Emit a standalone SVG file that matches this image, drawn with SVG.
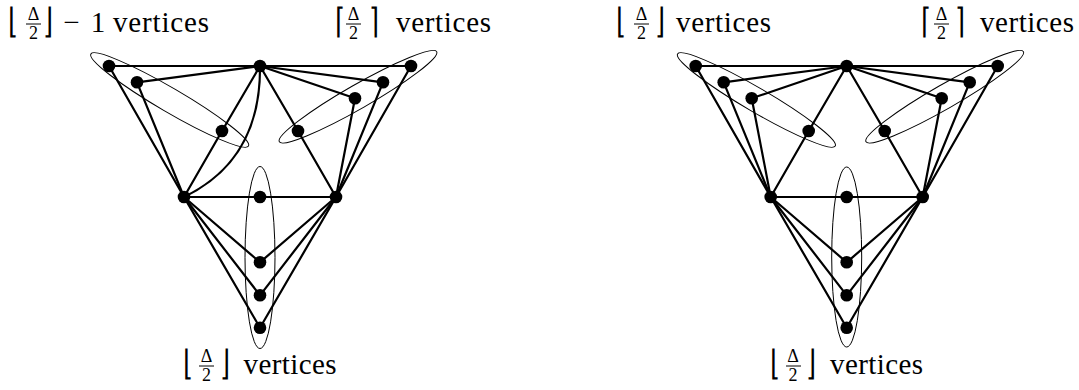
<svg xmlns="http://www.w3.org/2000/svg" width="1079" height="390" viewBox="0 0 1079 390">
<style>
.e{stroke:#000;stroke-width:2.2;fill:none;stroke-linecap:round}
.g{stroke:#000;stroke-width:1;fill:none}
.v{fill:#000}
.bar{stroke:#000;stroke-width:1}
.t{font-family:'Liberation Serif',serif;font-size:29px;fill:#000}
.f{font-family:'Liberation Serif',serif;font-size:18px;fill:#000;text-anchor:middle}
.b{font-family:'Liberation Serif',serif;font-size:26px;fill:#000;text-anchor:middle}
</style>
<rect width="1079" height="390" fill="#fff"/>
<g id="connectors">
<g id="left-edges">
<line class="e" x1="109" y1="66" x2="411" y2="66"/>
<line class="e" x1="137" y1="82.3" x2="260" y2="66"/>
<line class="e" x1="260" y1="66" x2="383" y2="82.3"/>
<line class="e" x1="260" y1="66" x2="355" y2="98.3"/>
<line class="e" x1="184" y1="197" x2="222" y2="131"/>
<line class="e" x1="222" y1="131" x2="260" y2="66"/>
<line class="e" x1="260" y1="66" x2="298" y2="131"/>
<line class="e" x1="298" y1="131" x2="336" y2="197"/>
<path class="e" d="M184,197 Q261,160 260,66"/>
<line class="e" x1="109" y1="66" x2="184" y2="197"/>
<line class="e" x1="137" y1="82.3" x2="184" y2="197"/>
<line class="e" x1="411" y1="66" x2="336" y2="197"/>
<line class="e" x1="383" y1="82.3" x2="336" y2="197"/>
<line class="e" x1="355" y1="98.3" x2="336" y2="197"/>
<line class="e" x1="184" y1="197" x2="336" y2="197"/>
<line class="e" x1="184" y1="197" x2="260" y2="262.3"/>
<line class="e" x1="184" y1="197" x2="260" y2="295.3"/>
<line class="e" x1="184" y1="197" x2="260" y2="327.7"/>
<line class="e" x1="336" y1="197" x2="260" y2="262.3"/>
<line class="e" x1="336" y1="197" x2="260" y2="295.3"/>
<line class="e" x1="336" y1="197" x2="260" y2="327.7"/>
</g>
<g id="right-edges">
<line class="e" x1="695.7" y1="66" x2="997.7" y2="66"/>
<line class="e" x1="723.7" y1="82.3" x2="846.7" y2="66"/>
<line class="e" x1="751.7" y1="98.3" x2="846.7" y2="66"/>
<line class="e" x1="846.7" y1="66" x2="969.7" y2="82.3"/>
<line class="e" x1="846.7" y1="66" x2="941.7" y2="98.3"/>
<line class="e" x1="770.7" y1="197" x2="808.7" y2="131"/>
<line class="e" x1="808.7" y1="131" x2="846.7" y2="66"/>
<line class="e" x1="846.7" y1="66" x2="884.7" y2="131"/>
<line class="e" x1="884.7" y1="131" x2="922.7" y2="197"/>
<line class="e" x1="695.7" y1="66" x2="770.7" y2="197"/>
<line class="e" x1="723.7" y1="82.3" x2="770.7" y2="197"/>
<line class="e" x1="751.7" y1="98.3" x2="770.7" y2="197"/>
<line class="e" x1="997.7" y1="66" x2="922.7" y2="197"/>
<line class="e" x1="969.7" y1="82.3" x2="922.7" y2="197"/>
<line class="e" x1="941.7" y1="98.3" x2="922.7" y2="197"/>
<line class="e" x1="770.7" y1="197" x2="922.7" y2="197"/>
<line class="e" x1="770.7" y1="197" x2="846.7" y2="262.3"/>
<line class="e" x1="770.7" y1="197" x2="846.7" y2="295.3"/>
<line class="e" x1="770.7" y1="197" x2="846.7" y2="327.7"/>
<line class="e" x1="922.7" y1="197" x2="846.7" y2="262.3"/>
<line class="e" x1="922.7" y1="197" x2="846.7" y2="295.3"/>
<line class="e" x1="922.7" y1="197" x2="846.7" y2="327.7"/>
</g>
</g>
<g id="groups">
<ellipse id="left-group-a" class="g" cx="169.7" cy="100" rx="91.3" ry="12" transform="rotate(30.3 169.7 100)"/>
<ellipse id="left-group-b" class="g" cx="358" cy="96.7" rx="90.7" ry="12" transform="rotate(-29.8 358 96.7)"/>
<ellipse id="left-group-c" class="g" cx="260" cy="257.5" rx="15" ry="91"/>
<ellipse id="right-group-a" class="g" cx="756.4" cy="100" rx="91.3" ry="12" transform="rotate(30.3 756.4 100)"/>
<ellipse id="right-group-b" class="g" cx="944.7" cy="96.7" rx="90.7" ry="12" transform="rotate(-29.8 944.7 96.7)"/>
<ellipse id="right-group-c" class="g" cx="846.7" cy="257" rx="15" ry="90"/>
</g>
<g id="left-vertices">
<circle id="lT" class="v" cx="260" cy="66" r="6.3"/>
<circle id="lL1" class="v" cx="109" cy="66" r="6.3"/>
<circle id="lL2" class="v" cx="137" cy="82.3" r="6.3"/>
<circle id="lL3" class="v" cx="222" cy="131" r="6.3"/>
<circle id="lR1" class="v" cx="411" cy="66" r="6.3"/>
<circle id="lR2" class="v" cx="383" cy="82.3" r="6.3"/>
<circle id="lR3" class="v" cx="355" cy="98.3" r="6.3"/>
<circle id="lR4" class="v" cx="298" cy="131" r="6.3"/>
<circle id="lBL" class="v" cx="184" cy="197" r="6.3"/>
<circle id="lBR" class="v" cx="336" cy="197" r="6.3"/>
<circle id="lM0" class="v" cx="260" cy="197" r="6.3"/>
<circle id="lM1" class="v" cx="260" cy="262.3" r="6.3"/>
<circle id="lM2" class="v" cx="260" cy="295.3" r="6.3"/>
<circle id="lM3" class="v" cx="260" cy="327.7" r="6.3"/>
</g>
<g id="right-vertices">
<circle id="rT" class="v" cx="846.7" cy="66" r="6.3"/>
<circle id="rL1" class="v" cx="695.7" cy="66" r="6.3"/>
<circle id="rL2" class="v" cx="723.7" cy="82.3" r="6.3"/>
<circle id="rL3" class="v" cx="751.7" cy="98.3" r="6.3"/>
<circle id="rL4" class="v" cx="808.7" cy="131" r="6.3"/>
<circle id="rR1" class="v" cx="997.7" cy="66" r="6.3"/>
<circle id="rR2" class="v" cx="969.7" cy="82.3" r="6.3"/>
<circle id="rR3" class="v" cx="941.7" cy="98.3" r="6.3"/>
<circle id="rR4" class="v" cx="884.7" cy="131" r="6.3"/>
<circle id="rBL" class="v" cx="770.7" cy="197" r="6.3"/>
<circle id="rBR" class="v" cx="922.7" cy="197" r="6.3"/>
<circle id="rM0" class="v" cx="846.7" cy="197" r="6.3"/>
<circle id="rM1" class="v" cx="846.7" cy="262.3" r="6.3"/>
<circle id="rM2" class="v" cx="846.7" cy="295.3" r="6.3"/>
<circle id="rM3" class="v" cx="846.7" cy="327.7" r="6.3"/>
</g>
<g id="label-left-a">
<text class="b" transform="translate(13 33) scale(1 1.35)">⌊</text>
<text class="f" x="33.5" y="20">Δ</text>
<line class="bar" x1="26" y1="24" x2="41" y2="24"/>
<text class="f" x="33.5" y="39">2</text>
<text class="b" transform="translate(48 33) scale(1 1.35)">⌋</text>
<text class="t" x="71.5" y="32" text-anchor="middle">−</text>
<text class="t" x="98" y="32" text-anchor="middle">1</text>
<text class="t" x="113" y="32" textLength="96" lengthAdjust="spacing">vertices</text>
</g>
<g id="label-left-b">
<text class="b" transform="translate(340 33) scale(1 1.35)">⌈</text>
<text class="f" x="353.5" y="20">Δ</text>
<line class="bar" x1="346" y1="24" x2="361" y2="24"/>
<text class="f" x="353.5" y="39">2</text>
<text class="b" transform="translate(374 33) scale(1 1.35)">⌉</text>
<text class="t" x="396" y="32" textLength="95" lengthAdjust="spacing">vertices</text>
</g>
<g id="label-left-c">
<text class="b" transform="translate(188.5 375) scale(1 1.35)">⌊</text>
<text class="f" x="206.5" y="362">Δ</text>
<line class="bar" x1="199" y1="366" x2="214" y2="366"/>
<text class="f" x="206.5" y="381">2</text>
<text class="b" transform="translate(225 375) scale(1 1.35)">⌋</text>
<text class="t" x="243.5" y="374" textLength="93" lengthAdjust="spacing">vertices</text>
</g>
<g id="label-right-a">
<text class="b" transform="translate(621.5 33) scale(1 1.35)">⌊</text>
<text class="f" x="641.5" y="20">Δ</text>
<line class="bar" x1="634" y1="24" x2="649" y2="24"/>
<text class="f" x="641.5" y="39">2</text>
<text class="b" transform="translate(660 33) scale(1 1.35)">⌋</text>
<text class="t" x="676" y="32" textLength="95" lengthAdjust="spacing">vertices</text>
</g>
<g id="label-right-b">
<text class="b" transform="translate(926.5 33) scale(1 1.35)">⌈</text>
<text class="f" x="941.5" y="20">Δ</text>
<line class="bar" x1="934" y1="24" x2="949" y2="24"/>
<text class="f" x="941.5" y="39">2</text>
<text class="b" transform="translate(960 33) scale(1 1.35)">⌉</text>
<text class="t" x="980" y="32" textLength="94" lengthAdjust="spacing">vertices</text>
</g>
<g id="label-right-c">
<text class="b" transform="translate(775 375) scale(1 1.35)">⌊</text>
<text class="f" x="793" y="362">Δ</text>
<line class="bar" x1="786" y1="366" x2="801" y2="366"/>
<text class="f" x="793" y="381">2</text>
<text class="b" transform="translate(811.5 375) scale(1 1.35)">⌋</text>
<text class="t" x="830" y="374" textLength="93" lengthAdjust="spacing">vertices</text>
</g>
</svg>
